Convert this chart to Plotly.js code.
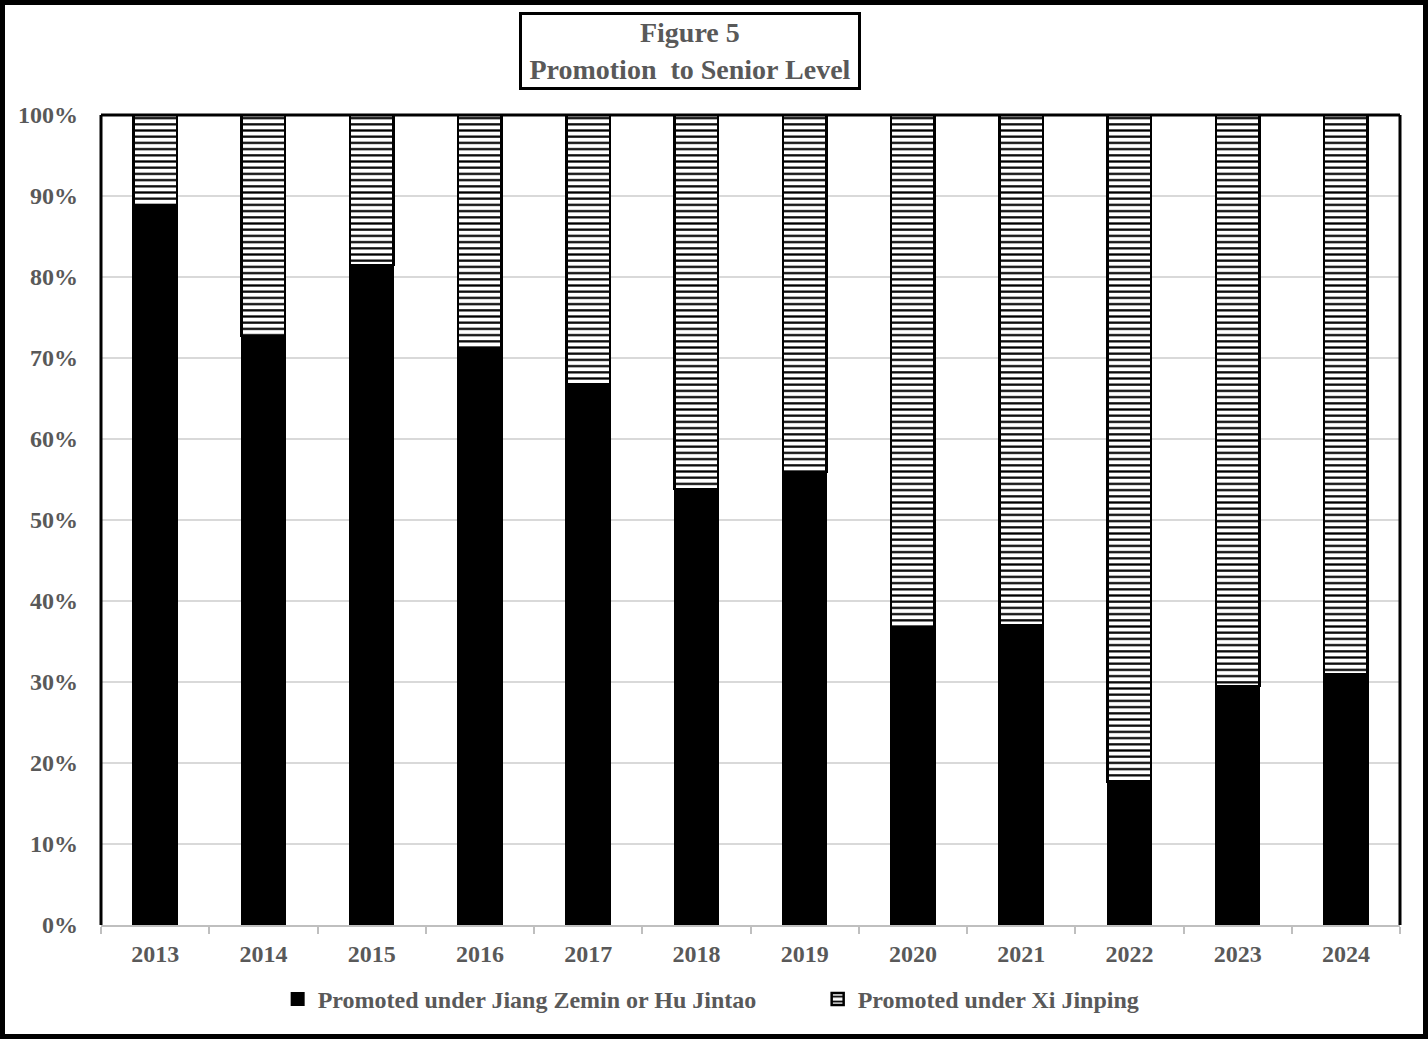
<!DOCTYPE html>
<html>
<head>
<meta charset="utf-8">
<script src="https://cdn.plot.ly/plotly-3.0.1.min.js"></script>
<style>
  html, body { margin: 0; padding: 0; background: #fff; }
  #wrap { width: 1418px; height: 1029px; border: 5px solid #000; }
  #chart { width: 1418px; height: 1029px; }
</style>
</head>
<body>
<div id="wrap"><div id="chart"></div></div>
<script>
  const years = ["2013", "2014", "2015", "2016", "2017", "2018", "2019", "2020", "2021", "2022", "2023", "2024"];
  const jiangHu = [0.889, 0.727, 0.815, 0.711, 0.667, 0.538, 0.559, 0.368, 0.370, 0.177, 0.295, 0.310];
  const xiJinping = [0.111, 0.273, 0.185, 0.289, 0.333, 0.462, 0.441, 0.632, 0.630, 0.823, 0.705, 0.690];
  const yTicks = [0, 0.1, 0.2, 0.3, 0.4, 0.5, 0.6, 0.7, 0.8, 0.9, 1];

  const textFont = { family: "Liberation Serif, Times New Roman, serif", weight: "bold", color: "#595959" };

  const traces = [
    {
      name: "Promoted under Jiang Zemin or Hu Jintao",
      x: years,
      y: jiangHu,
      type: "bar",
      marker: { color: "#000", line: { color: "#000", width: 2 } },
    },
    {
      name: "Promoted under Xi Jinping",
      x: years,
      y: xiJinping,
      type: "bar",
      marker: {
        color: "#fff",
        line: { color: "#000", width: 2.5 },
        pattern: { shape: "-", size: 6.2, solidity: 0.36, fgcolor: "#000", bgcolor: "#fff" },
      },
    },
  ];

  const layout = {
    width: 1418,
    height: 1029,
    margin: { l: 96, r: 23, t: 110, b: 107 },
    paper_bgcolor: "#fff",
    plot_bgcolor: "#fff",
    barmode: "stack",
    bargap: 0.6,
    font: Object.assign({ size: 24 }, textFont),
    showlegend: true,
    legend: {
      orientation: "h",
      traceorder: "normal",
      x: 0.136,
      xanchor: "left",
      y: -0.092,
      yanchor: "middle",
      entrywidth: 495,
      font: Object.assign({ size: 24 }, textFont),
    },
    xaxis: {
      type: "category",
      showline: true,
      linecolor: "#bfbfbf",
      linewidth: 2,
      ticks: "outside",
      tickson: "boundaries",
      ticklen: 7,
      tickcolor: "#bfbfbf",
      tickwidth: 2,
      ticklabelstandoff: 6,
      showgrid: false,
      tickfont: Object.assign({ size: 24 }, textFont),
    },
    yaxis: {
      range: [0, 1],
      tickvals: yTicks,
      tickformat: ".0%",
      showgrid: true,
      gridcolor: "#d9d9d9",
      gridwidth: 2,
      zeroline: false,
      showline: false,
      ticks: "",
      ticklabelstandoff: 22,
      tickfont: Object.assign({ size: 24 }, textFont),
    },
    shapes: [
      { type: "line", xref: "paper", yref: "paper", x0: 0, x1: 1, y0: 1, y1: 1, line: { color: "#000", width: 3 }, layer: "above" },
      { type: "line", xref: "paper", yref: "paper", x0: 0, x1: 0, y0: 0, y1: 1, line: { color: "#000", width: 3 }, layer: "above" },
      { type: "line", xref: "paper", yref: "paper", x0: 1, x1: 1, y0: 0, y1: 1, line: { color: "#000", width: 3 }, layer: "above" },
    ],
    annotations: [
      {
        text: "Figure 5<br>Promotion&nbsp; to Senior Level",
        xref: "paper",
        yref: "paper",
        x: 0.4534,
        y: 1.0794,
        xanchor: "center",
        yanchor: "middle",
        showarrow: false,
        width: 334,
        height: 70,
        borderwidth: 3,
        borderpad: 1,
        bordercolor: "#000",
        bgcolor: "#fff",
        font: Object.assign({ size: 28 }, textFont),
      },
    ],
  };

  Plotly.newPlot("chart", traces, layout, { displayModeBar: false, responsive: false });
</script>
</body>
</html>
